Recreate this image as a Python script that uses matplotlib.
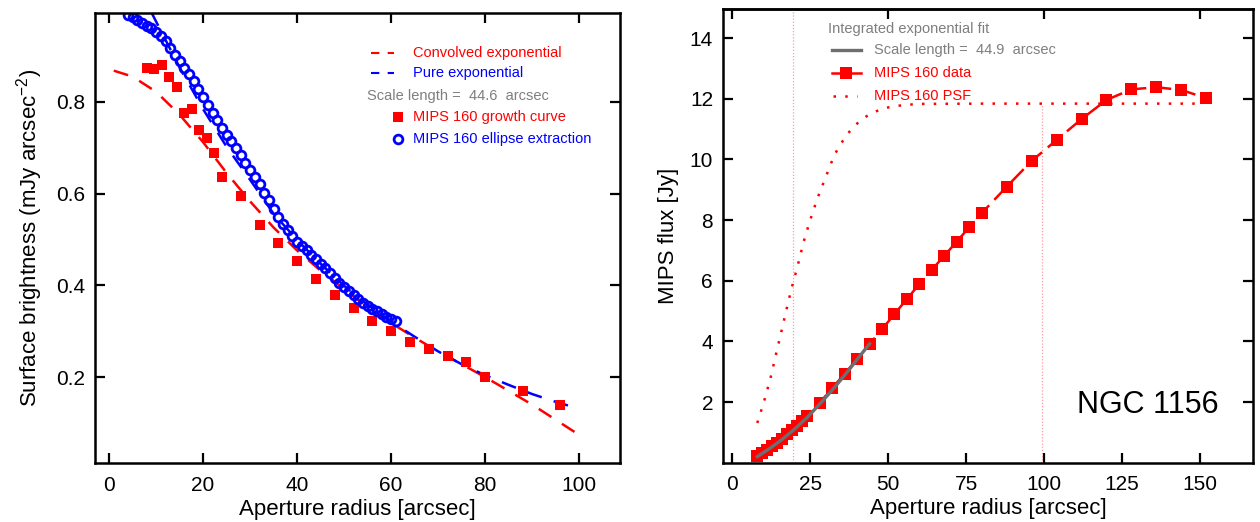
import matplotlib
matplotlib.use("Agg")
import matplotlib.pyplot as plt

plt.rcParams["font.family"] = ["Liberation Sans", "DejaVu Sans"]
plt.rcParams["mathtext.fontset"] = "custom"
plt.rcParams["mathtext.rm"] = "Liberation Sans"
plt.rcParams["mathtext.default"] = "regular"

# --- Data: left panel (surface brightness profile) ---
growth_r = [8, 9.6, 11.2, 12.8, 14.4, 16, 17.6, 19.2, 20.8, 22.4, 24, 28, 32, 36,
            40, 44, 48, 52, 56, 60, 64, 68, 72, 76, 80, 88, 96]
growth_sb = [0.874, 0.872, 0.881, 0.855, 0.833, 0.776, 0.785, 0.739, 0.721, 0.689,
             0.636, 0.595, 0.532, 0.492, 0.453, 0.414, 0.379, 0.351, 0.322, 0.301,
             0.277, 0.261, 0.246, 0.233, 0.200, 0.170, 0.139]

ellipse_r = [4, 5, 6, 7, 8, 9, 10, 11, 12, 13, 14, 15, 16, 17, 18, 19, 20, 21, 22,
             23, 24, 25, 26, 27, 28, 29, 30, 31, 32, 33, 34, 35, 36, 37, 38, 39, 40,
             41, 42, 43, 44, 45, 46, 47, 48, 49, 50, 51, 52, 53, 54, 55, 56, 57, 58,
             59, 60, 61]
ellipse_sb = [0.990, 0.985, 0.978, 0.972, 0.966, 0.960, 0.952, 0.943, 0.932, 0.918,
              0.903, 0.888, 0.873, 0.860, 0.845, 0.827, 0.810, 0.793, 0.776, 0.760,
              0.743, 0.728, 0.714, 0.700, 0.684, 0.667, 0.652, 0.636, 0.620, 0.602,
              0.585, 0.566, 0.550, 0.534, 0.520, 0.508, 0.495, 0.485, 0.476, 0.467,
              0.457, 0.447, 0.437, 0.427, 0.417, 0.406, 0.396, 0.387, 0.378, 0.370,
              0.362, 0.355, 0.349, 0.343, 0.337, 0.331, 0.326, 0.322]

conv_r = [1, 5, 10, 15, 20, 25, 30, 35, 40, 45, 50, 55, 60, 65, 70, 75, 80, 85, 90,
          95, 100]
conv_sb = [0.868, 0.855, 0.822, 0.772, 0.712, 0.645, 0.583, 0.526, 0.476, 0.432,
           0.392, 0.352, 0.318, 0.286, 0.256, 0.228, 0.200, 0.170, 0.140, 0.107, 0.074]

pure_r = [9, 10, 15, 20, 25, 30, 35, 40, 45, 50, 55, 60, 65, 70, 75, 80, 85, 90, 95,
          100]
pure_sb = [0.995, 0.975, 0.875, 0.784, 0.702, 0.630, 0.556, 0.499, 0.447, 0.399,
           0.358, 0.321, 0.288, 0.256, 0.228, 0.204, 0.183, 0.163, 0.146, 0.131]

# --- Data: right panel (growth curve) ---
flux_r = [8, 9.6, 11.2, 12.8, 14.4, 16, 17.6, 19.2, 20.8, 22.4, 24, 28, 32, 36, 40,
          44, 48, 52, 56, 60, 64, 68, 72, 76, 80, 88, 96, 104, 112, 120, 128, 136,
          144, 152]
flux_jy = [0.23, 0.32, 0.42, 0.54, 0.66, 0.79, 0.93, 1.08, 1.22, 1.37, 1.53, 1.97,
           2.46, 2.93, 3.42, 3.91, 4.40, 4.90, 5.40, 5.89, 6.36, 6.83, 7.29, 7.77,
           8.23, 9.10, 9.95, 10.64, 11.33, 11.96, 12.31, 12.38, 12.29, 12.02]

fit_r = [8, 12, 16, 20, 24, 28, 32, 36, 40, 44]
fit_jy = [0.20, 0.47, 0.77, 1.11, 1.49, 1.93, 2.39, 2.88, 3.40, 3.92]

psf_r = [8, 10.2, 12.2, 13.9, 15.6, 17.3, 19.0, 21.0, 22.8, 24.9, 27.3, 30.0, 32.7,
         34.6, 36.7, 39.1, 42.0, 45.0, 48.7, 52.4, 55.9, 60, 80, 100, 120, 150]
psf_jy = [1.31, 2.03, 2.77, 3.53, 4.27, 5.02, 5.75, 6.51, 7.26, 7.98, 8.72, 9.43,
          10.14, 10.48, 10.81, 11.10, 11.36, 11.54, 11.69, 11.76, 11.80, 11.83,
          11.84, 11.84, 11.84, 11.84]

psf_marks_r = [19.6, 99.2]
psf_marks_top = [14.95, 11.84]

# --- Style ---
RED = "#ff0000"
BLUE = "#0000ff"
GREY_TXT = "#7f7f7f"
GREY_LINE = "#6e6e6e"
PINK = "#ff9a9a"
TICK_FS = 15
LABEL_FS = 16
LEG_FS = 10.5


def style_axes(ax):
    for sp in ax.spines.values():
        sp.set_linewidth(1.8)
    ax.tick_params(direction="in", length=7, width=1.6, labelsize=TICK_FS,
                   top=True, right=True, pad=7)
    ax.tick_params(axis="x", pad=9)


def draw_profile(ax):
    ax.plot(conv_r, conv_sb, color=RED, lw=1.8, dashes=(6, 5))
    ax.plot(pure_r, pure_sb, color=BLUE, lw=1.8, dashes=(6, 5))
    ax.plot(growth_r, growth_sb, "s", color=RED, ms=7.5, mew=0)
    ax.plot(ellipse_r, ellipse_sb, "o", mfc="none", mec=BLUE, ms=6.3, mew=2.0)

    ax.set_xlim(-3.0, 108.7)
    ax.set_ylim(0.012, 0.993)
    ax.set_xticks([0, 20, 40, 60, 80, 100])
    ax.set_yticks([0.2, 0.4, 0.6, 0.8])
    ax.set_xlabel("Aperture radius [arcsec]", fontsize=LABEL_FS, labelpad=3)
    ax.set_ylabel("Surface brightness (mJy arcsec$^{-2}$)", fontsize=LABEL_FS,
                  labelpad=8)
    style_axes(ax)

    # hand-placed key, as in the original
    ax.plot([55.7, 60.6], [0.907, 0.907], color=RED, lw=1.5, dashes=(4, 4))
    ax.text(64.6, 0.907, "Convolved exponential", color=RED, fontsize=LEG_FS,
            va="center")
    ax.plot([55.7, 60.6], [0.863, 0.863], color=BLUE, lw=1.5, dashes=(4, 4))
    ax.text(64.6, 0.863, "Pure exponential", color=BLUE, fontsize=LEG_FS,
            va="center")
    ax.text(54.9, 0.812, "Scale length =  44.6  arcsec", color=GREY_TXT,
            fontsize=LEG_FS, va="center")
    ax.plot([61.4], [0.767], "s", color=RED, ms=7.5, mew=0)
    ax.text(64.6, 0.767, "MIPS 160 growth curve", color=RED, fontsize=LEG_FS,
            va="center")
    ax.plot([61.4], [0.719], "o", mfc="none", mec=BLUE, ms=6.3, mew=2.0)
    ax.text(64.6, 0.719, "MIPS 160 ellipse extraction", color=BLUE,
            fontsize=LEG_FS, va="center")


def draw_growth(ax):
    for r, top in zip(psf_marks_r, psf_marks_top):
        ax.plot([r, r], [0, top], color=PINK, lw=0.9, ls=(0, (1, 1.5)))
    ax.plot(psf_r, psf_jy, color=RED, lw=1.8, ls=(0, (1, 3.7)))
    ax.plot(flux_r, flux_jy, color=RED, lw=1.8, dashes=(7, 3),
            marker="s", ms=8, mew=0)
    ax.plot(fit_r, fit_jy, color=GREY_LINE, lw=2.4)

    ax.set_xlim(-3.08, 167.1)
    ax.set_ylim(0, 14.95)
    ax.set_xticks([0, 25, 50, 75, 100, 125, 150])
    ax.set_yticks([2, 4, 6, 8, 10, 12, 14])
    ax.set_xlabel("Aperture radius [arcsec]", fontsize=LABEL_FS, labelpad=3)
    ax.set_ylabel("MIPS flux [Jy]", fontsize=LABEL_FS, labelpad=8)
    style_axes(ax)
    ax.tick_params(axis="x", top=False)
    sec = ax.secondary_xaxis("top")
    sec.set_xticks([0, 50, 100, 150])
    sec.tick_params(direction="in", length=7, width=1.6, labeltop=False)
    sec.spines["top"].set_linewidth(1.8)

    ax.text(30.8, 14.29, "Integrated exponential fit", color=GREY_TXT,
            fontsize=LEG_FS, va="center")
    ax.plot([31.9, 41.3], [13.61, 13.61], color=GREY_LINE, lw=2.4)
    ax.text(45.4, 13.61, "Scale length =  44.9  arcsec", color=GREY_TXT,
            fontsize=LEG_FS, va="center")
    ax.plot([31.9, 41.3], [12.86, 12.86], color=RED, lw=1.8)
    ax.plot([36.6], [12.86], "s", color=RED, ms=8, mew=0)
    ax.text(45.4, 12.86, "MIPS 160 data", color=RED, fontsize=LEG_FS,
            va="center")
    ax.plot([32.2, 40.0], [12.09, 12.09], color=RED, lw=1.8, ls=(0, (1, 3.7)))
    ax.text(45.4, 12.09, "MIPS 160 PSF", color=RED, fontsize=LEG_FS,
            va="center")

    ax.text(110.5, 1.9, "NGC 1156", fontsize=22, va="center")


def main():
    fig = plt.figure(figsize=(12.6, 5.22), dpi=100)
    ax1 = fig.add_axes([0.0754, 0.1124, 0.4167, 0.8621])
    ax2 = fig.add_axes([0.5736, 0.1136, 0.4211, 0.8686])
    draw_profile(ax1)
    draw_growth(ax2)
    fig.savefig("out.png", dpi=100)
    plt.close(fig)


if __name__ == "__main__":
    main()
